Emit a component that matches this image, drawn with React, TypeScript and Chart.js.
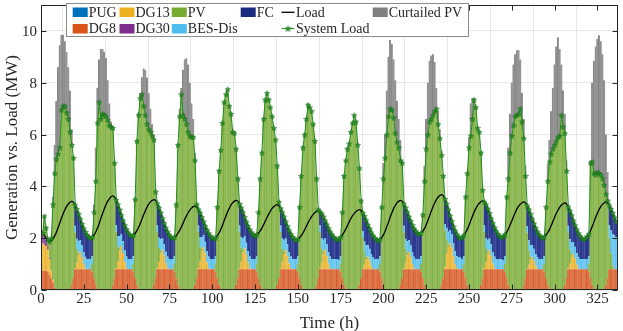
import React, { useEffect, useRef } from "react";
import { Chart, registerables } from "chart.js";

Chart.register(...registerables);

// ---------------- data (hour 1..336, one row per day) ----------------
const X_TICKS = [0, 25, 50, 75, 100, 125, 150, 175, 200, 225, 250, 275, 300, 325];
const Y_TICKS = [0, 2, 4, 6, 8, 10];
const X_MAX = 337;
const Y_MAX = 11;

const LOAD_BY_DAY = [
  [2.2,2.1,2.0,1.9,1.86,1.91,1.98,2.09,2.23,2.41,2.59,2.78,2.95,3.11,3.23,3.33,3.39,3.42,3.38,3.28,3.12,2.94,2.74,2.55],
  [2.38,2.24,2.13,2.04,2.0,2.05,2.13,2.24,2.39,2.57,2.77,2.96,3.14,3.3,3.43,3.53,3.6,3.63,3.58,3.48,3.3,3.1,2.89,2.68],
  [2.5,2.34,2.22,2.13,2.08,2.12,2.19,2.29,2.42,2.57,2.74,2.91,3.07,3.21,3.32,3.41,3.46,3.49,3.45,3.34,3.18,2.98,2.77,2.58],
  [2.4,2.25,2.13,2.04,2.0,2.04,2.1,2.19,2.3,2.43,2.58,2.73,2.87,2.99,3.09,3.17,3.22,3.24,3.2,3.11,2.98,2.81,2.64,2.47],
  [2.32,2.19,2.09,2.02,1.98,2.02,2.1,2.2,2.34,2.5,2.68,2.85,3.02,3.16,3.28,3.37,3.43,3.46,3.42,3.32,3.17,3.0,2.81,2.63],
  [2.47,2.33,2.22,2.14,2.1,2.14,2.2,2.28,2.39,2.52,2.66,2.8,2.93,3.05,3.15,3.22,3.27,3.29,3.25,3.15,3.0,2.83,2.64,2.46],
  [2.3,2.16,2.05,1.97,1.93,1.96,2.02,2.1,2.2,2.33,2.46,2.6,2.72,2.83,2.92,2.99,3.04,3.06,3.03,2.95,2.83,2.68,2.53,2.38],
  [2.25,2.14,2.05,1.98,1.95,1.98,2.04,2.12,2.23,2.35,2.49,2.63,2.76,2.87,2.96,3.03,3.08,3.1,3.06,2.98,2.85,2.69,2.52,2.37],
  [2.22,2.1,2.01,1.94,1.9,1.95,2.02,2.13,2.27,2.45,2.63,2.82,2.99,3.15,3.27,3.37,3.43,3.46,3.42,3.33,3.18,3.01,2.83,2.66],
  [2.5,2.37,2.27,2.19,2.15,2.2,2.27,2.38,2.52,2.69,2.87,3.05,3.22,3.37,3.5,3.59,3.65,3.68,3.63,3.51,3.33,3.11,2.87,2.66],
  [2.45,2.29,2.15,2.05,2.0,2.04,2.12,2.22,2.35,2.5,2.68,2.85,3.01,3.15,3.27,3.35,3.41,3.44,3.4,3.3,3.14,2.96,2.76,2.58],
  [2.41,2.27,2.16,2.07,2.03,2.07,2.14,2.24,2.36,2.51,2.67,2.84,2.99,3.13,3.24,3.32,3.37,3.4,3.36,3.26,3.11,2.93,2.74,2.56],
  [2.39,2.25,2.14,2.06,2.02,2.06,2.13,2.22,2.34,2.49,2.65,2.81,2.96,3.09,3.2,3.28,3.33,3.36,3.32,3.22,3.06,2.88,2.68,2.5],
  [2.33,2.19,2.08,1.99,1.95,1.99,2.07,2.17,2.3,2.46,2.63,2.81,2.97,3.11,3.23,3.31,3.37,3.4,3.36,3.27,3.13,2.97,2.8,2.62],
];

const SYSLOAD_BY_DAY = [
  [2.2,2.85,2.4,1.95,1.87,2.0,3.3,4.5,5.05,5.25,5.5,6.95,7.1,7.1,6.85,6.6,6.1,5.6,5.1,3.28,3.12,2.94,2.74,2.55],
  [2.38,2.24,2.13,2.04,2.0,2.05,3.0,4.2,6.45,7.25,6.6,6.8,6.75,6.7,6.55,6.35,6.3,6.25,4.9,3.48,3.3,3.1,2.89,2.68],
  [2.5,2.34,2.22,2.13,2.08,2.12,3.5,5.75,6.75,7.4,7.56,7.1,6.75,6.4,6.2,6.1,5.95,5.8,3.8,3.34,3.18,2.98,2.77,2.58],
  [2.4,2.25,2.13,2.04,2.0,2.04,3.3,5.6,6.7,7.55,6.75,6.6,6.4,6.1,5.95,5.9,5.9,5.0,3.3,3.11,2.98,2.81,2.64,2.47],
  [2.32,2.19,2.09,2.02,1.98,2.02,3.2,4.6,5.4,6.45,7.25,7.55,7.75,7.1,6.8,6.1,6.05,5.45,4.3,3.32,3.17,3.0,2.81,2.63],
  [2.47,2.33,2.22,2.14,2.1,2.14,3.0,4.3,5.3,6.6,7.35,7.6,7.35,7.05,6.7,6.25,5.8,4.8,3.4,3.15,3.0,2.83,2.64,2.46],
  [2.3,2.16,2.05,1.97,1.93,1.96,3.2,4.4,5.5,6.0,6.6,7.15,7.05,6.9,6.4,5.75,4.3,3.1,3.03,2.95,2.83,2.68,2.53,2.38],
  [2.25,2.14,2.05,1.98,1.95,1.98,2.04,3.0,4.4,5.0,5.45,5.65,6.1,6.45,6.75,6.5,5.6,4.7,3.45,2.98,2.85,2.69,2.52,2.37],
  [2.22,2.1,2.01,1.94,1.9,1.95,3.2,4.3,5.1,6.0,6.7,7.0,6.95,6.65,6.05,5.7,5.5,5.0,4.9,3.33,3.18,3.01,2.83,2.66],
  [2.5,2.37,2.27,2.19,2.15,2.2,2.9,4.2,5.45,6.0,6.5,6.6,6.75,6.9,7.0,6.4,5.85,5.2,4.4,3.51,3.33,3.11,2.87,2.66],
  [2.45,2.29,2.15,2.05,2.0,2.04,2.12,3.6,4.5,5.5,5.95,6.6,7.35,7.05,6.25,6.1,5.3,3.85,3.4,3.3,3.14,2.96,2.76,2.58],
  [2.41,2.27,2.16,2.07,2.03,2.07,2.14,3.6,4.3,5.3,5.95,6.35,6.7,6.75,6.8,7.0,6.5,5.85,4.4,3.26,3.11,2.93,2.74,2.56],
  [2.39,2.25,2.14,2.06,2.02,2.06,3.2,4.2,4.95,5.25,5.45,5.6,5.75,5.9,5.95,6.75,6.3,6.05,4.6,3.22,3.06,2.88,2.68,2.5],
  [2.33,2.19,2.08,1.99,1.95,1.99,2.07,2.17,4.9,4.95,4.5,4.45,4.55,4.5,4.45,4.3,4.05,3.7,3.45,3.27,3.13,2.97,2.8,2.62],
];

const PUG: number[] = [];

const DG8_BY_DAY = [
  [0.75,0.75,0.75,0.7,0.6,0.45,0.3,0.1,0,0,0,0,0,0,0,0,0,0.2,0.45,0.8,0.8,0.8,0.8,0.8],
  [0.8,0.8,0.8,0.8,0.8,0.7,0.45,0.2,0,0,0,0,0,0,0,0,0,0.2,0.45,0.8,0.8,0.8,0.8,0.8],
  [0.8,0.8,0.8,0.8,0.8,0.7,0.45,0.2,0,0,0,0,0,0,0,0,0,0.2,0.45,0.8,0.8,0.8,0.8,0.8],
  [0.8,0.8,0.8,0.8,0.8,0.7,0.45,0.2,0,0,0,0,0,0,0,0,0,0.2,0.45,0.8,0.8,0.8,0.8,0.8],
  [0.8,0.8,0.8,0.8,0.8,0.7,0.45,0.2,0,0,0,0,0,0,0,0,0,0.2,0.45,0.8,0.8,0.8,0.8,0.8],
  [0.8,0.8,0.8,0.8,0.8,0.7,0.45,0.2,0,0,0,0,0,0,0,0,0,0.2,0.45,0.8,0.8,0.8,0.8,0.8],
  [0.8,0.8,0.8,0.8,0.8,0.7,0.45,0.2,0,0,0,0,0,0,0,0,0.2,0.45,0.8,0.8,0.8,0.8,0.8,0.8],
  [0.8,0.8,0.8,0.8,0.8,0.8,0.7,0.45,0.2,0,0,0,0,0,0,0,0,0.2,0.45,0.8,0.8,0.8,0.8,0.8],
  [0.8,0.8,0.8,0.8,0.8,0.7,0.45,0.2,0,0,0,0,0,0,0,0,0,0.2,0.45,0.8,0.8,0.8,0.8,0.8],
  [0.8,0.8,0.8,0.8,0.8,0.7,0.45,0.2,0,0,0,0,0,0,0,0,0,0.2,0.45,0.8,0.8,0.8,0.8,0.8],
  [0.8,0.8,0.8,0.8,0.8,0.8,0.7,0.45,0.2,0,0,0,0,0,0,0,0.2,0.45,0.8,0.8,0.8,0.8,0.8,0.8],
  [0.8,0.8,0.8,0.8,0.8,0.8,0.7,0.45,0.2,0,0,0,0,0,0,0,0,0.2,0.45,0.8,0.8,0.8,0.8,0.8],
  [0.8,0.8,0.8,0.8,0.8,0.7,0.45,0.2,0,0,0,0,0,0,0,0,0,0.2,0.45,0.8,0.8,0.8,0.8,0.8],
  [0.8,0.8,0.8,0.8,0.8,0.8,0.8,0.7,0.45,0.2,0,0,0,0,0,0,0,0.2,0.45,0.8,0.8,0.8,0.8,0.8],
];

const DG13_BY_DAY = [
  [1.05,1.0,0.95,0.85,0.6,0.3,0.1,0,0,0,0,0,0,0,0,0,0,0,0,0.03,0.23,0.54,0.67,0.47],
  [0.2,0.03,0,0,0,0,0,0,0,0,0,0,0,0,0,0,0,0,0,0.05,0.32,0.72,0.9,0.63],
  [0.27,0.05,0,0,0,0,0,0,0,0,0,0,0,0,0,0,0,0,0,0.04,0.27,0.61,0.76,0.53],
  [0.23,0.04,0,0,0,0,0,0,0,0,0,0,0,0,0,0,0,0,0,0.04,0.3,0.7,0.87,0.61],
  [0.26,0.04,0,0,0,0,0,0,0,0,0,0,0,0,0,0,0,0,0,0.04,0.29,0.66,0.82,0.57],
  [0.25,0.04,0,0,0,0,0,0,0,0,0,0,0,0,0,0,0,0,0,0.04,0.26,0.59,0.74,0.52],
  [0.22,0.04,0,0,0,0,0,0,0,0,0,0,0,0,0,0,0,0,0.04,0.26,0.59,0.74,0.52,0.22],
  [0.04,0,0,0,0,0,0,0,0,0,0,0,0,0,0,0,0,0,0,0.02,0.17,0.38,0.48,0.34],
  [0.14,0.02,0,0,0,0,0,0,0,0,0,0,0,0,0,0,0,0,0,0.03,0.23,0.54,0.67,0.47],
  [0.2,0.03,0,0,0,0,0,0,0,0,0,0,0,0,0,0,0,0,0,0.1,0.6,0.85,1.0,0.85],
  [0.5,0.2,0.05,0,0,0,0,0,0,0,0,0,0,0,0,0,0,0,0.04,0.26,0.59,0.74,0.52,0.22],
  [0.04,0,0,0,0,0,0,0,0,0,0,0,0,0,0,0,0,0,0,0.02,0.17,0.38,0.48,0.34],
  [0.14,0.02,0,0,0,0,0,0,0,0,0,0,0,0,0,0,0,0,0,0.03,0.21,0.48,0.6,0.42],
  [0.18,0.03,0,0,0,0,0,0,0,0,0,0,0,0,0,0,0,0,0,0,0,0,0,0],
];

// DG30 only runs during the first hours (hours 1..5)
const DG30_FIRST_HOURS = [0.3, 0.35, 0.25, 0.15, 0.05];

const PV_BY_DAY = [
  [0,0.75,0.45,0.25,0.62,1.25,2.9,4.4,5.05,5.25,5.5,6.95,7.1,7.1,6.85,6.6,6.1,5.4,4.65,1.4,0.55,0.1,0,0],
  [0,0,0,0,0,0.3,2.55,4.0,6.45,7.25,6.6,6.8,6.75,6.7,6.55,6.35,6.3,6.05,4.45,1.4,0.55,0.1,0,0],
  [0,0,0,0,0,0.3,3.05,5.55,6.75,7.4,7.56,7.1,6.75,6.4,6.2,6.1,5.95,5.6,3.35,1.4,0.55,0.1,0,0],
  [0,0,0,0,0,0.3,2.85,5.4,6.7,7.55,6.75,6.6,6.4,6.1,5.95,5.9,5.9,4.8,2.85,1.4,0.55,0.1,0,0],
  [0,0,0,0,0,0.3,2.75,4.4,5.4,6.45,7.25,7.55,7.75,7.1,6.8,6.1,6.05,5.25,3.85,1.4,0.55,0.1,0,0],
  [0,0,0,0,0,0.3,2.55,4.1,5.3,6.6,7.35,7.6,7.35,7.05,6.7,6.25,5.8,4.6,2.95,1.4,0.55,0.1,0,0],
  [0,0,0,0,0,0.3,2.75,4.2,5.5,6.0,6.6,7.15,7.05,6.9,6.4,5.75,4.1,2.65,1.4,0.55,0.1,0,0,0],
  [0,0,0,0,0,0,0.3,2.55,4.2,5.0,5.45,5.65,6.1,6.45,6.75,6.5,5.6,4.5,3.0,1.2,0.5,0.1,0,0],
  [0,0,0,0,0,0.3,2.75,4.1,5.1,6.0,6.7,7.0,6.95,6.65,6.05,5.7,5.5,4.8,4.45,1.4,0.55,0.1,0,0],
  [0,0,0,0,0,0.3,2.45,4.0,5.45,6.0,6.5,6.6,6.75,6.9,7.0,6.4,5.85,5.0,3.95,1.4,0.55,0.1,0,0],
  [0,0,0,0,0,0,0.3,3.15,4.3,5.5,5.95,6.6,7.35,7.05,6.25,6.1,5.1,3.4,1.4,0.55,0.1,0,0,0],
  [0,0,0,0,0,0,0.3,3.15,4.1,5.3,5.95,6.35,6.7,6.75,6.8,7.0,6.5,5.65,3.95,1.4,0.55,0.1,0,0],
  [0,0,0,0,0,0.3,2.75,4.0,4.95,5.25,5.45,5.6,5.75,5.9,5.95,6.75,6.3,5.85,4.15,1.4,0.55,0.1,0,0],
  [0,0,0,0,0,0,0,0.3,4.45,4.75,4.5,4.45,4.55,4.5,4.45,4.3,4.05,3.5,3.0,1.2,0.6,0.15,0,0],
];

const BES_BY_DAY = [
  [0,0,0,0,0,0,0,0,0,0,0,0,0,0,0,0,0,0,0,0.25,0.4,0.45,0.45,0.45],
  [0.45,0.45,0.4,0.4,0.4,0.3,0,0,0,0,0,0,0,0,0,0,0,0,0,0.25,0.4,0.45,0.45,0.45],
  [0.45,0.45,0.4,0.4,0.4,0.3,0,0,0,0,0,0,0,0,0,0,0,0,0,0.25,0.4,0.45,0.45,0.45],
  [0.45,0.45,0.4,0.4,0.4,0.3,0,0,0,0,0,0,0,0,0,0,0,0,0,0.25,0.4,0.45,0.45,0.45],
  [0.45,0.45,0.4,0.4,0.4,0.3,0,0,0,0,0,0,0,0,0,0,0,0,0,0.25,0.4,0.45,0.45,0.45],
  [0.45,0.45,0.4,0.4,0.4,0.3,0,0,0,0,0,0,0,0,0,0,0,0,0,0.25,0.4,0.45,0.45,0.45],
  [0.45,0.45,0.4,0.4,0.4,0.3,0,0,0,0,0,0,0,0,0,0,0,0,0.25,0.4,0.45,0.45,0.45,0.45],
  [0.45,0.4,0.4,0.4,0.4,0.35,0.3,0,0,0,0,0,0,0,0,0,0,0,0,0.25,0.4,0.45,0.45,0.45],
  [0.45,0.45,0.4,0.4,0.4,0.3,0,0,0,0,0,0,0,0,0,0,0,0,0,0.25,0.4,0.45,0.45,0.45],
  [0.45,0.45,0.4,0.4,0.4,0.3,0,0,0,0,0,0,0,0,0,0,0,0,0,0.25,0.45,0.5,0.5,0.5],
  [0.5,0.5,0.45,0.45,0.45,0.4,0.3,0,0,0,0,0,0,0,0,0,0,0,0.25,0.4,0.45,0.45,0.45,0.45],
  [0.45,0.4,0.4,0.4,0.4,0.35,0.3,0,0,0,0,0,0,0,0,0,0,0,0,0.25,0.4,0.45,0.45,0.45],
  [0.45,0.45,0.4,0.4,0.4,0.3,0,0,0,0,0,0,0,0,0,0,0,0,0,0.25,0.4,0.45,0.45,0.45],
  [0.45,0.45,0.4,0.4,0.4,0.4,0.4,0.3,0,0,0,0,0,0,0,0,0,0,0,0.5,0.9,1.2,1.3,1.25],
];

const FC_BY_DAY = [
  [0.1,0,0,0,0,0,0,0,0,0,0,0,0,0,0,0,0,0,0,0.8,1.14,1.05,0.82,0.83],
  [0.93,0.96,0.93,0.84,0.8,0.75,0,0,0,0,0,0,0,0,0,0,0,0,0,0.98,1.23,1.03,0.74,0.8],
  [0.98,1.04,1.02,0.93,0.88,0.82,0,0,0,0,0,0,0,0,0,0,0,0,0,0.85,1.16,1.02,0.76,0.8],
  [0.92,0.96,0.93,0.84,0.8,0.74,0,0,0,0,0,0,0,0,0,0,0,0,0,0.62,0.93,0.76,0.52,0.61],
  [0.81,0.9,0.89,0.82,0.78,0.72,0,0,0,0,0,0,0,0,0,0,0,0,0,0.83,1.13,0.99,0.74,0.81],
  [0.97,1.04,1.02,0.94,0.9,0.84,0,0,0,0,0,0,0,0,0,0,0,0,0,0.66,0.99,0.89,0.65,0.69],
  [0.83,0.87,0.85,0.77,0.73,0.66,0,0,0,0,0,0,0,0,0,0,0,0,0.54,0.94,0.89,0.69,0.76,0.91],
  [0.96,0.94,0.85,0.78,0.75,0.83,0.74,0,0,0,0,0,0,0,0,0,0,0,0,0.71,0.98,0.96,0.79,0.78],
  [0.83,0.83,0.81,0.74,0.7,0.65,0,0,0,0,0,0,0,0,0,0,0,0,0,0.85,1.2,1.12,0.91,0.94],
  [1.05,1.09,1.07,0.99,0.95,0.9,0,0,0,0,0,0,0,0,0,0,0,0,0,0.96,0.93,0.86,0.57,0.51],
  [0.65,0.79,0.85,0.8,0.75,0.84,0.82,0,0,0,0,0,0,0,0,0,0,0,0.91,1.29,1.2,0.97,0.99,1.11],
  [1.12,1.07,0.96,0.87,0.83,0.92,0.84,0,0,0,0,0,0,0,0,0,0,0,0,0.79,1.19,1.2,1.01,0.97],
  [1.0,0.98,0.94,0.86,0.82,0.76,0,0,0,0,0,0,0,0,0,0,0,0,0,0.74,1.1,1.05,0.83,0.83],
  [0.9,0.91,0.88,0.79,0.75,0.79,0.87,0.87,0,0,0,0,0,0,0,0,0,0,0,0.77,0.83,0.82,0.7,0.57],
];

const CURTAILED_BY_DAY = [
  [0,0,0,0,0,0,0.3,1.1,2.25,3.35,3.95,2.9,2.75,2.5,2.35,2.0,1.6,0.6,0,0,0,0,0,0],
  [0,0,0,0,0,0,0.3,1.3,1.35,1.65,2.7,2.5,2.45,2.25,1.55,0.85,0.2,0.05,0,0,0,0,0,0],
  [0,0,0,0,0,0,0,0,0.1,0.2,0.65,1.45,1.75,1.8,1.4,0.9,0.45,0.2,0,0,0,0,0,0],
  [0,0,0,0,0,0,0,0,0.3,0.25,1.75,2.3,2.55,2.6,2.05,1.3,0.7,0.3,0,0,0,0,0,0],
  [0,0,0,0,0,0,0,0,0,0,0,0,0,0,0,0,0,0,0,0,0,0,0,0],
  [0,0,0,0,0,0,0,0,0,0,0,0,0,0,0,0,0,0,0,0,0,0,0,0],
  [0,0,0,0,0,0,0,0,0,0,0,0,0,0,0,0,0,0,0,0,0,0,0,0],
  [0,0,0,0,0,0,0,0,0,0,0,0,0,0,0,0,0,0,0,0,0,0,0,0],
  [0,0,0,0,0,0,0,0.6,0.9,1.7,2.3,2.65,2.55,2.25,2.05,1.6,1.1,0.8,0.1,0,0,0,0,0],
  [0,0,0,0,0,0,0,0.6,1.15,2.0,2.35,2.45,2.35,1.9,0.8,0.5,0.35,0.2,0,0,0,0,0,0],
  [0,0,0,0,0,0,0,0,0,0.4,1.25,0.8,0.05,0,0,0,0,0,0,0,0,0,0,0],
  [0,0,0,0,0,0,0,0,1.2,1.5,2.05,2.35,2.4,2.5,2.45,1.9,1.1,0.75,0.4,0,0,0,0,0],
  [0,0,0,0,0,0,0,0.65,0.85,1.65,2.35,3.1,3.65,3.85,3.35,1.95,1.4,0.75,0.4,0,0,0,0,0],
  [0,0,0,0,0,0,0,0,0.1,3.05,4.35,4.95,5.15,5.33,5.15,4.8,4.05,2.3,1.1,0,0,0,0,0],
];

// ---------------- styles ----------------
const FONT = '"Liberation Serif", "Times New Roman", serif';
const AXIS_COLOR = "#262626";

const SERIES_STYLE = {
  PUG: { swatch: "#0072BD", fill: "#338ECA", edge: "#0072BD" },
  DG8: { swatch: "#D95319", fill: "#E07547", edge: "#C94A14" },
  DG13: { swatch: "#EDB120", fill: "#F1C14D", edge: "#DDA418" },
  DG30: { swatch: "#7E2F8E", fill: "#9859A5", edge: "#7E2F8E" },
  PV: { swatch: "#77AC30", fill: "#92BD59", edge: "#6E9F2C" },
  BES: { swatch: "#4DBEEE", fill: "#71CBF2", edge: "#45B2E0" },
  FC: { swatch: "#1C2A80", fill: "#2F3D92", edge: "#1C2A80" },
  CURT: { swatch: "#808080", fill: "#939393", edge: "#737373" },
};

function toPoints(vals: number[], startHour = 1) {
  return vals.map((v, i) => ({ x: i + startHour, y: v }));
}

function makeStar(size: number, fill: string, stroke: string) {
  const c = document.createElement("canvas");
  c.width = size;
  c.height = size;
  const g = c.getContext("2d")!;
  const cx = size / 2;
  const cy = size / 2 + 0.3;
  const R = size / 2 - 0.4;
  const r = R * 0.42;
  g.beginPath();
  for (let i = 0; i < 10; i++) {
    const a = -Math.PI / 2 + (i * Math.PI) / 5;
    const rr = i % 2 === 0 ? R : r;
    const px = cx + rr * Math.cos(a);
    const py = cy + rr * Math.sin(a);
    if (i === 0) g.moveTo(px, py);
    else g.lineTo(px, py);
  }
  g.closePath();
  g.fillStyle = fill;
  g.fill();
  g.strokeStyle = stroke;
  g.lineWidth = 0.6;
  g.stroke();
  return c;
}

export default function App() {
  const ref = useRef<HTMLCanvasElement>(null);

  useEffect(() => {
    document.body.style.margin = "0";
    const canvas = ref.current;
    if (!canvas) return;

    const LOAD = LOAD_BY_DAY.flat();
    const SYSLOAD = SYSLOAD_BY_DAY.flat();
    const DG8 = DG8_BY_DAY.flat();
    const DG13 = DG13_BY_DAY.flat();
    const PV = PV_BY_DAY.flat();
    const BES = BES_BY_DAY.flat();
    const FC = FC_BY_DAY.flat();
    const CURT = CURTAILED_BY_DAY.flat();

    const star = makeStar(6, "#2E9E2E", "#146614");
    const legendStar = makeStar(7, "#2E9E2E", "#146614");

    const barDs = (label: string, vals: number[], st: { fill: string; edge: string }, start = 1) => ({
      type: "bar" as const,
      label,
      data: toPoints(vals, start),
      backgroundColor: st.fill,
      borderColor: st.edge,
      borderWidth: { left: 0.5, right: 0, top: 0, bottom: 0 },
      borderSkipped: false,
      barPercentage: 1,
      categoryPercentage: 1,
      order: 2,
    });

    const overlay = {
      id: "overlay",
      afterDraw(chart: any) {
        const ctx: CanvasRenderingContext2D = chart.ctx;
        const { left, right, top, bottom } = chart.chartArea;
        const xs = chart.scales.x;
        const ys = chart.scales.y;
        ctx.save();
        // frame
        ctx.strokeStyle = AXIS_COLOR;
        ctx.lineWidth = 1;
        const L = Math.round(left) + 0.5;
        const R = Math.round(right) - 0.5;
        const T = Math.round(top) + 0.5;
        const B = Math.round(bottom) - 0.5;
        ctx.strokeRect(L, T, R - L, B - T);
        // inward ticks
        ctx.beginPath();
        X_TICKS.forEach((v) => {
          const px = Math.round(xs.getPixelForValue(v)) + 0.5;
          ctx.moveTo(px, B);
          ctx.lineTo(px, B - 5);
          ctx.moveTo(px, T);
          ctx.lineTo(px, T + 5);
        });
        Y_TICKS.forEach((v) => {
          const py = Math.round(ys.getPixelForValue(v)) + 0.5;
          ctx.moveTo(L, py);
          ctx.lineTo(L + 5, py);
          ctx.moveTo(R, py);
          ctx.lineTo(R - 5, py);
        });
        ctx.stroke();
        // tick labels
        ctx.fillStyle = AXIS_COLOR;
        ctx.font = `15px ${FONT}`;
        ctx.textBaseline = "alphabetic";
        ctx.textAlign = "center";
        X_TICKS.forEach((v) => {
          ctx.fillText(String(v), xs.getPixelForValue(v), 303);
        });
        ctx.textAlign = "right";
        Y_TICKS.forEach((v) => {
          ctx.fillText(String(v), left - 4, ys.getPixelForValue(v) + 5);
        });
        // axis titles
        ctx.font = `17px ${FONT}`;
        ctx.textAlign = "center";
        ctx.fillText("Time (h)", (left + right) / 2, 327.5);
        ctx.save();
        ctx.translate(16.5, (top + bottom) / 2);
        ctx.rotate(-Math.PI / 2);
        ctx.fillText("Generation vs. Load (MW)", 0, 0);
        ctx.restore();

        // legend
        const bx = 66.5, by = 3.5, bw = 402, bh = 33;
        ctx.fillStyle = "#ffffff";
        ctx.fillRect(bx, by, bw, bh);
        ctx.strokeStyle = "#8c8c8c";
        ctx.lineWidth = 1;
        ctx.strokeRect(bx, by, bw, bh);
        ctx.font = `14px ${FONT}`;
        ctx.textAlign = "left";
        ctx.textBaseline = "alphabetic";
        const rowSw = [7.5, 24];
        const rowBase = [16.8, 33.2];
        const patches: [string, string, number, number][] = [
          ["PUG", SERIES_STYLE.PUG.swatch, 72.7, 0],
          ["DG8", SERIES_STYLE.DG8.swatch, 72.7, 1],
          ["DG13", SERIES_STYLE.DG13.swatch, 119.5, 0],
          ["DG30", SERIES_STYLE.DG30.swatch, 119.5, 1],
          ["PV", SERIES_STYLE.PV.swatch, 171.8, 0],
          ["BES-Dis", SERIES_STYLE.BES.swatch, 171.8, 1],
          ["FC", SERIES_STYLE.FC.swatch, 240.7, 0],
          ["Curtailed PV", SERIES_STYLE.CURT.swatch, 372.7, 0],
        ];
        patches.forEach(([label, color, x, row]) => {
          ctx.fillStyle = color;
          ctx.fillRect(x, rowSw[row], 15, 9.5);
          ctx.fillStyle = AXIS_COLOR;
          ctx.fillText(label, x + 16, rowBase[row]);
        });
        // Load line sample
        ctx.strokeStyle = "#000000";
        ctx.lineWidth = 1.3;
        ctx.beginPath();
        ctx.moveTo(281.5, 12.3);
        ctx.lineTo(294.5, 12.3);
        ctx.stroke();
        ctx.fillStyle = AXIS_COLOR;
        ctx.fillText("Load", 296, rowBase[0]);
        // System load sample
        ctx.strokeStyle = "#228B22";
        ctx.lineWidth = 1;
        ctx.beginPath();
        ctx.moveTo(281.5, 28.6);
        ctx.lineTo(294.5, 28.6);
        ctx.stroke();
        ctx.drawImage(legendStar, 288 - 3.5, 28.6 - 3.5);
        ctx.fillStyle = AXIS_COLOR;
        ctx.fillText("System Load", 296, rowBase[1]);
        ctx.restore();
      },
    };

    const chart = new Chart(canvas, {
      type: "bar",
      data: {
        datasets: [
          barDs("PUG", PUG, SERIES_STYLE.PUG),
          barDs("DG8", DG8, SERIES_STYLE.DG8),
          barDs("DG13", DG13, SERIES_STYLE.DG13),
          barDs("DG30", DG30_FIRST_HOURS, SERIES_STYLE.DG30, 1),
          barDs("PV", PV, SERIES_STYLE.PV),
          barDs("BES-Dis", BES, SERIES_STYLE.BES),
          barDs("FC", FC, SERIES_STYLE.FC),
          barDs("Curtailed PV", CURT, SERIES_STYLE.CURT),
          {
            type: "line" as const,
            label: "System Load",
            data: toPoints(SYSLOAD),
            borderColor: "#228B22",
            borderWidth: 1,
            pointStyle: star as any,
            pointRadius: 3,
            tension: 0,
            stack: "sys",
            order: 0,
          } as any,
          {
            type: "line" as const,
            label: "Load",
            data: toPoints(LOAD),
            borderColor: "#000000",
            borderWidth: 1.3,
            pointRadius: 0,
            tension: 0.3,
            stack: "load",
            order: 1,
          } as any,
        ],
      },
      options: {
        responsive: false,
        animation: false,
        devicePixelRatio: 1,
        layout: { padding: { top: 3, right: 3, left: 0, bottom: 0 } },
        plugins: { legend: { display: false }, tooltip: { enabled: false } },
        events: [],
        scales: {
          x: {
            type: "linear",
            min: 0,
            max: X_MAX,
            offset: false,
            stacked: true,
            afterBuildTicks: (scale: any) => {
              scale.ticks = X_TICKS.map((v) => ({ value: v }));
            },
            afterFit: (scale: any) => {
              scale.height = 41;
            },
            ticks: { display: false },
            grid: { color: "#e2e2e2", lineWidth: 0.8, drawTicks: false },
            border: { display: false },
          },
          y: {
            type: "linear",
            min: 0,
            max: Y_MAX,
            stacked: true,
            afterBuildTicks: (scale: any) => {
              scale.ticks = Y_TICKS.map((v) => ({ value: v }));
            },
            afterFit: (scale: any) => {
              scale.width = 41;
            },
            ticks: { display: false },
            grid: { color: "#e2e2e2", lineWidth: 0.8, drawTicks: false },
            border: { display: false },
          },
        },
      } as any,
      plugins: [overlay],
    } as any);

    return () => chart.destroy();
  }, []);

  return (
    <div style={{ position: "absolute", left: 0, top: 0, width: 623, height: 331, background: "#fff" }}>
      <canvas ref={ref} width={623} height={331} style={{ width: 623, height: 331, display: "block" }} />
    </div>
  );
}
